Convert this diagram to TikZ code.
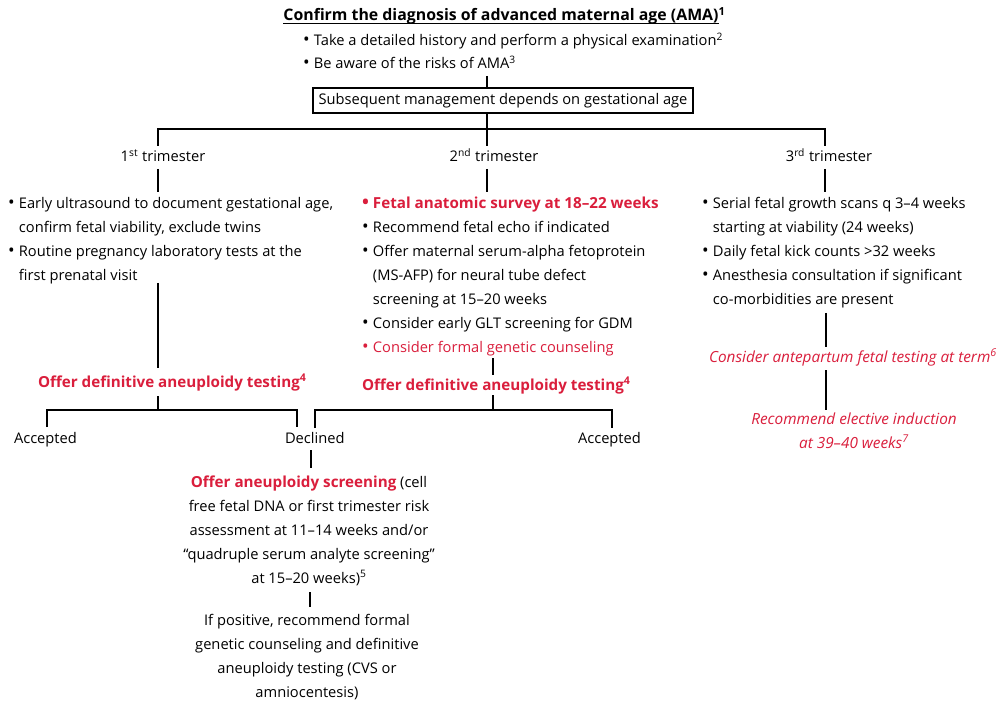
\documentclass[tikz,border=0pt]{standalone}
\usepackage{fontspec}
\setmainfont{Open Sans}
\definecolor{amared}{RGB}{218,30,60}
\newcommand\bodyfont{\fontsize{11}{18}\selectfont}
\newcommand\boldfont{\fontsize{11.4}{18}\selectfont\bfseries}
\newcommand\slantfont{\fontsize{11.5}{18}\selectfont\itshape}
\newcommand\bl{\makebox[8.2pt][l]{\scalebox{1.2}{\textbullet}}}
\newcommand\hi{\hspace*{8.2pt}}
\tikzset{
  every node/.style={inner sep=0pt, outer sep=0pt, font=\bodyfont},
  txt/.style={anchor=base west},
  ctxt/.style={anchor=base},
  hot/.style={text=amared, font=\boldfont},
  hotit/.style={text=amared, font=\slantfont},
  link/.style={line width=1pt},
  frame/.style={draw, line width=1pt, minimum width=285pt, minimum height=18.75pt}
}
\begin{document}
\begin{tikzpicture}[x=0.75pt, y=-0.75pt]
\fill[white] (0,0) rectangle (1003,702);
\useasboundingbox (0,0) rectangle (1003,702);

% heading and general measures
\node[ctxt, font=\fontsize{11.9}{18}\selectfont\bfseries] (title) at (501,21) {Confirm the diagnosis of advanced maternal age (AMA)\rlap{\textsuperscript{1}}};
\draw[line width=0.9pt] ([yshift=-2pt]title.base west) -- ([yshift=-2pt]title.base east);
\node[txt] (hist) at (303,46) {\bl Take a detailed history and perform a physical examination\textsuperscript{2}};
\node[txt] (risk) at (303,69) {\bl Be aware of the risks of AMA\textsuperscript{3}};
\node[frame] (box) at (503,100.5) {Subsequent management depends on gestational age};

% trimester labels
\node[ctxt] (tri1) at (163,162) {1\textsuperscript{st} trimester};
\node[ctxt] (tri2) at (494,162) {2\textsuperscript{nd} trimester};
\node[ctxt] (tri3) at (829,162) {3\textsuperscript{rd} trimester};

% first trimester
\node[txt] (list1) at (8,209) {\begin{tabular}[t]{@{}l@{}}
\bl Early ultrasound to document gestational age,\\
\hi confirm fetal viability, exclude twins\\
\bl Routine pregnancy laboratory tests at the\\
\hi first prenatal visit
\end{tabular}};
\node[txt, hot] (def1) at (38,387) {Offer definitive aneuploidy testing\textsuperscript{4}};
\node[txt] (acc1) at (14,443) {Accepted};
\node[txt] (dec) at (285,443) {Declined};

% second trimester
\node[txt] (list2) at (362,209) {\begin{tabular}[t]{@{}l@{}}
{\color{amared}\boldfont\bl Fetal anatomic survey at 18--22 weeks}\\
\bl Recommend fetal echo if indicated\\
\bl Offer maternal serum-alpha fetoprotein\\
\hi (MS-AFP) for neural tube defect\\
\hi screening at 15--20 weeks\\
\bl Consider early GLT screening for GDM\\
{\color{amared}\bl Consider formal genetic counseling}
\end{tabular}};
\node[txt, hot] (def2) at (362,390) {Offer definitive aneuploidy testing\textsuperscript{4}};
\node[txt] (acc2) at (578,443) {Accepted};

% screening after declined testing
\node[ctxt] (screen) at (309,487) {\begin{tabular}[t]{@{}c@{}}
{\color{amared}\boldfont Offer aneuploidy screening} (cell\\
free fetal DNA or first trimester risk\\
assessment at 11--14 weeks and/or\\
“quadruple serum analyte screening”\\
at 15--20 weeks)\textsuperscript{5}
\end{tabular}};
\node[ctxt] (positive) at (307,625) {\begin{tabular}[t]{@{}c@{}}
If positive, recommend formal\\
genetic counseling and definitive\\
aneuploidy testing (CVS or\\
amniocentesis)
\end{tabular}};

% third trimester
\node[txt] (list3) at (702,209) {\begin{tabular}[t]{@{}l@{}}
\bl Serial fetal growth scans q 3--4 weeks\\
\hi starting at viability (24 weeks)\\
\bl Daily fetal kick counts >32 weeks\\
\bl Anesthesia consultation if significant\\
\hi co-morbidities are present
\end{tabular}};
\node[ctxt, hotit] (ante) at (853,362) {Consider antepartum fetal testing at term\textsuperscript{6}};
\node[ctxt, hotit] (induct) at (854,424) {\begin{tabular}[t]{@{}c@{}}
Recommend elective induction\\
at 39--40 weeks\textsuperscript{7}
\end{tabular}};

% connector end points
\coordinate (stem) at (487,76);
\coordinate (hub) at (487,129);
\coordinate (b1) at (158,146);
\coordinate (b2) at (487,146);
\coordinate (b3) at (825,146);
\coordinate (t1a) at (158,169); \coordinate (t1b) at (158,192);
\coordinate (t2a) at (487,169); \coordinate (t2b) at (487,192);
\coordinate (t3a) at (825,169); \coordinate (t3b) at (825,192);
\coordinate (l1a) at (158,283); \coordinate (l1b) at (158,368);
\coordinate (d1a) at (158,396); \coordinate (d1b) at (158,410);
\coordinate (acc1top) at (47,427); \coordinate (dec1top) at (297,427);
\coordinate (l2a) at (493,358); \coordinate (l2b) at (493,375);
\coordinate (d2a) at (493,395); \coordinate (d2b) at (493,410);
\coordinate (dec2top) at (315,428); \coordinate (acc2top) at (612,428);
\coordinate (s1) at (311,450); \coordinate (s2) at (311,468);
\coordinate (p1) at (310,592); \coordinate (p2) at (310,607);
\coordinate (r1) at (826,313); \coordinate (r2) at (826,347);
\coordinate (r3) at (826,370); \coordinate (r4) at (826,410);

% connectors
\draw[link] (stem) -- (stem |- box.north);
\draw[link] (hub |- box.south) -- (hub);
\draw[link] (b1) -- (b1 |- hub) -- (b3 |- hub) -- (b3);
\draw[link] (hub) -- (b2);
\draw[link] (t1a) -- (t1b);
\draw[link] (t2a) -- (t2b);
\draw[link] (t3a) -- (t3b);
\draw[link] (l1a) -- (l1b);
\draw[link] (d1a) -- (d1b);
\draw[link] (acc1top) -- (acc1top |- d1b) -- (dec1top |- d1b) -- (dec1top);
\draw[link] (l2a) -- (l2b);
\draw[link] (d2a) -- (d2b);
\draw[link] (dec2top) -- (dec2top |- d2b) -- (acc2top |- d2b) -- (acc2top);
\draw[link] (s1) -- (s2);
\draw[link] (p1) -- (p2);
\draw[link] (r1) -- (r2);
\draw[link] (r3) -- (r4);
\end{tikzpicture}
\end{document}
